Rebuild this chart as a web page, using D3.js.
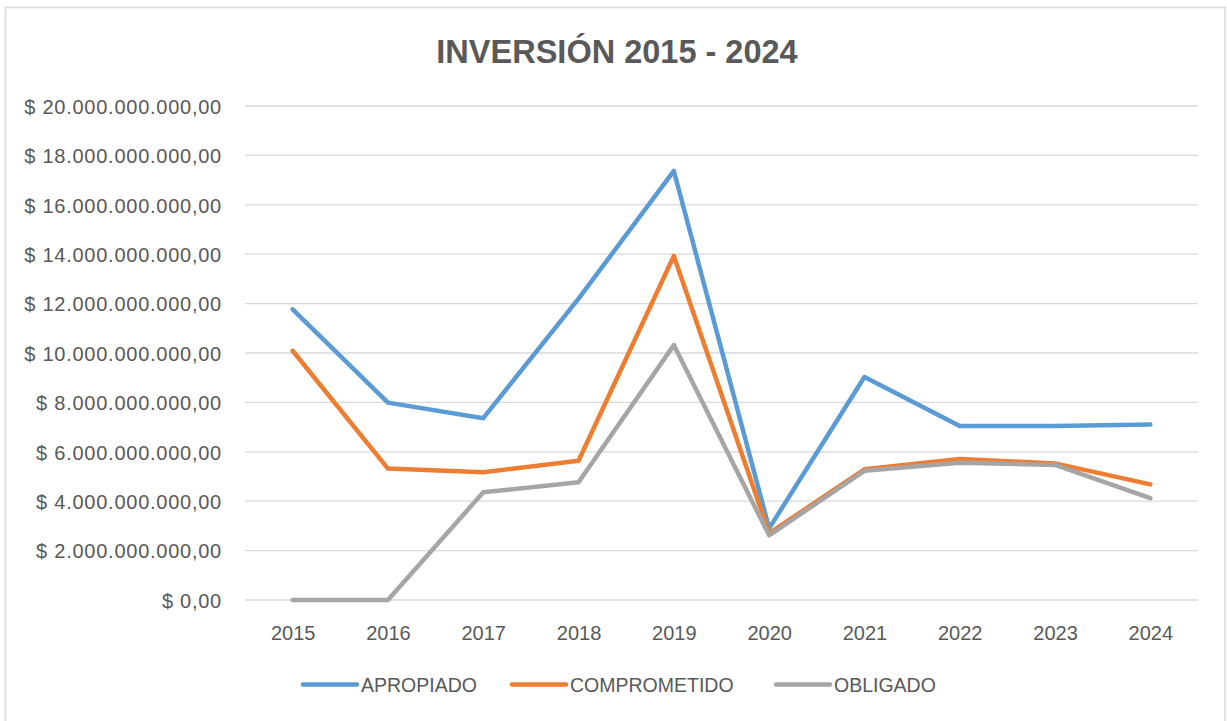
<!DOCTYPE html>
<html>
<head>
<meta charset="utf-8">
<script src="https://cdn.jsdelivr.net/npm/d3@7/dist/d3.min.js"></script>
<style>
  html, body { margin: 0; padding: 0; background: #ffffff; }
  svg { display: block; }
</style>
</head>
<body>
<script>
// ---- Data ----
const years = ["2015","2016","2017","2018","2019","2020","2021","2022","2023","2024"];
const apropiado    = [11.77e9, 7.99e9, 7.36e9, 12.2e9, 17.37e9, 2.9e9, 9.03e9, 7.04e9, 7.04e9, 7.11e9];
const comprometido = [10.09e9, 5.32e9, 5.17e9, 5.64e9, 13.93e9, 2.7e9, 5.29e9, 5.71e9, 5.53e9, 4.68e9];
const obligado     = [0, 0, 4.36e9, 4.77e9, 10.32e9, 2.62e9, 5.23e9, 5.56e9, 5.47e9, 4.12e9];
const seriesNames  = ["APROPIADO", "COMPROMETIDO", "OBLIGADO"];
const yTicks = [0, 2e9, 4e9, 6e9, 8e9, 10e9, 12e9, 14e9, 16e9, 18e9, 20e9];
const titleText = "INVERSIÓN 2015 - 2024";

const colors = ["#5B9BD5", "#ED7D31", "#A5A5A5"];
const seriesData = [apropiado, comprometido, obligado];

const W = 1227, H = 721;
const svg = d3.select("body").append("svg").attr("width", W).attr("height", H);

// chart border
svg.append("rect")
  .attr("x", 5.5).attr("y", 7.5).attr("width", 1219.5).attr("height", 730)
  .attr("fill", "#ffffff").attr("stroke", "#d9d9d9").attr("stroke-width", 1.5);

const textColor = "#595959";
const font = "'Liberation Sans', Arial, sans-serif";

// title
svg.append("text")
  .attr("x", 617).attr("y", 63)
  .attr("text-anchor", "middle")
  .attr("font-family", font).attr("font-weight", "bold")
  .attr("font-size", 32.5).attr("fill", textColor)
  .text(titleText);

// scales
const x = d3.scalePoint().domain(years).range([245, 1198]).padding(0.5);
const y = d3.scaleLinear().domain([0, 20e9]).range([600, 106]);

// gridlines
svg.append("g").selectAll("line").data(yTicks).join("line")
  .attr("x1", 245).attr("x2", 1198)
  .attr("y1", d => y(d)).attr("y2", d => y(d))
  .attr("stroke", "#d9d9d9").attr("stroke-width", 1.3);

// y axis labels
const fmt = v => {
  const s = d3.format(",.2f")(v); // 20,000,000,000.00
  return "$ " + s.replace(/,/g, "#").replace(".", ",").replace(/#/g, ".");
};
const yAxis = d3.axisLeft(y).tickValues(yTicks).tickFormat(fmt).tickSize(0).tickPadding(0);
const gy = svg.append("g").attr("transform", "translate(222,0)").call(yAxis);
gy.select(".domain").remove();
gy.selectAll("text")
  .attr("font-family", font).attr("font-size", 20).attr("fill", textColor)
  .attr("letter-spacing", 0.75)
  .attr("dy", "0.36em");

// x axis labels
const xAxis = d3.axisBottom(x).tickSize(0).tickPadding(0);
const gx = svg.append("g").attr("transform", "translate(0,640)").call(xAxis);
gx.select(".domain").remove();
gx.selectAll("text")
  .attr("font-family", font).attr("font-size", 20).attr("fill", textColor)
  .attr("dy", 0).attr("y", 0);

// lines
const line = d3.line().x((d, i) => x(years[i])).y(d => y(d));
seriesData.forEach((arr, k) => {
  svg.append("path")
    .datum(arr)
    .attr("d", line)
    .attr("fill", "none")
    .attr("stroke", colors[k])
    .attr("stroke-width", 4.5)
    .attr("stroke-linejoin", "round")
    .attr("stroke-linecap", "round");
});

// legend
const legendX = [303, 512, 776];
const lg = svg.append("g");
seriesNames.forEach((name, k) => {
  lg.append("line")
    .attr("x1", legendX[k]).attr("x2", legendX[k] + 54)
    .attr("y1", 684.5).attr("y2", 684.5)
    .attr("stroke", colors[k]).attr("stroke-width", 4.5)
    .attr("stroke-linecap", "round");
  lg.append("text")
    .attr("x", legendX[k] + 58).attr("y", 692)
    .attr("font-family", font).attr("font-size", 19.5).attr("fill", textColor)
    .text(name);
});
</script>
</body>
</html>
